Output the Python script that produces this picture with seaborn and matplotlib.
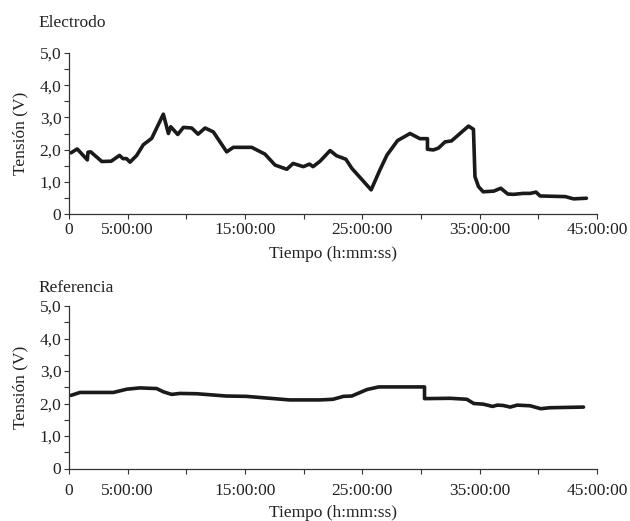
import matplotlib
matplotlib.use("Agg")
import matplotlib.pyplot as plt
import seaborn as sns
import pandas as pd

# Electrodo series (hours, volts)
elec_h = [0.17, 0.7, 1.56, 1.62, 1.85, 2.8, 3.6, 4.3, 4.6, 4.9, 5.2, 5.77, 6.33, 7.05, 8.04,
          8.47, 8.67, 9.27, 9.75, 10.46, 11.0, 11.6, 12.3, 13.44, 14.0, 15.57, 16.7, 17.56,
          18.56, 19.1, 19.97, 20.5, 20.8, 21.4, 22.25, 22.8, 23.6, 24.1, 25.75, 26.5, 27.1,
          28.0, 29.07, 29.9, 30.55, 30.55, 31.06, 31.5, 32.05, 32.6, 34.05, 34.47, 34.6,
          34.9, 35.3, 36.2, 36.8, 37.4, 37.9, 38.7, 39.3, 39.8, 40.15, 42.3, 43.0, 44.1]
elec_v = [1.9, 2.02, 1.68, 1.92, 1.93, 1.63, 1.64, 1.82, 1.72, 1.72, 1.61, 1.82, 2.15, 2.35, 3.1,
          2.5, 2.71, 2.47, 2.69, 2.67, 2.48, 2.67, 2.55, 1.93, 2.07, 2.07, 1.86, 1.52,
          1.39, 1.57, 1.47, 1.55, 1.47, 1.64, 1.97, 1.81, 1.70, 1.42, 0.75, 1.37, 1.83,
          2.28, 2.5, 2.34, 2.34, 2.01, 1.99, 2.05, 2.24, 2.27, 2.73, 2.63, 1.16,
          0.85, 0.69, 0.71, 0.80, 0.62, 0.61, 0.64, 0.64, 0.68, 0.56, 0.54, 0.47, 0.49]

# Referencia series (hours, volts)
ref_h = [0.17, 0.94, 3.78, 4.92, 6.05, 7.47, 8.04, 8.75, 9.46, 10.9, 13.4, 15.1, 16.8, 18.8,
         21.4, 22.5, 23.4, 24.1, 25.4, 26.4, 30.3, 30.3, 32.5, 33.9, 34.5, 35.3, 36.1, 36.5,
         37.0, 37.6, 38.2, 39.3, 40.2, 41.0, 43.85]
ref_v = [2.25, 2.34, 2.34, 2.44, 2.48, 2.46, 2.36, 2.28, 2.31, 2.3, 2.23, 2.22, 2.17, 2.11,
         2.11, 2.13, 2.22, 2.23, 2.43, 2.51, 2.51, 2.15, 2.16, 2.13, 2.0, 1.98, 1.91, 1.95,
         1.94, 1.89, 1.95, 1.93, 1.84, 1.87, 1.89]

x_ticks = [0, 5, 10, 15, 20, 25, 30, 35, 40, 45]
x_labels = ["0", "5:00:00", "", "15:00:00", "", "25:00:00", "", "35:00:00", "", "45:00:00"]
y_ticks = [0, 0.5, 1, 1.5, 2, 2.5, 3, 3.5, 4, 4.5, 5]
y_labels = ["0", "", "1,0", "", "2,0", "", "3,0", "", "4,0", "", "5,0"]

sns.set_theme(style="ticks")
plt.rcParams["font.family"] = ["Liberation Serif", "DejaVu Serif"]
FS = 12.5
TXT = "#222222"

fig = plt.figure(figsize=(6.3, 5.21), dpi=100)
ax1 = fig.add_axes([69/630, 1-214/521, (597-69)/630, (214-53)/521])
ax2 = fig.add_axes([69/630, 1-468.5/521, (597-69)/630, (468.5-306)/521])

panels = [(ax1, elec_h, elec_v, "Electrodo", 23, 2, 6),
          (ax2, ref_h, ref_v, "Referencia", 288, 7, 4.6)]
for ax, h, v, title, ty, xpad, lpad in panels:
    df = pd.DataFrame({"h": h, "v": v})
    sns.lineplot(data=df, x="h", y="v", ax=ax, sort=False, estimator=None,
                 color="#1a1a1a", linewidth=2.6)
    ax.set_xlim(0, 45)
    ax.set_ylim(0, 5)
    ax.set_xticks(x_ticks)
    ax.set_xticklabels(x_labels, fontsize=FS, color=TXT)
    ax.set_yticks(y_ticks)
    ax.set_yticklabels(y_labels, fontsize=FS, color=TXT)
    ax.tick_params(axis="both", direction="out", length=3.5, width=0.8, color="#333333", pad=2)
    ax.tick_params(axis="x", pad=xpad)
    for s in ["top", "right"]:
        ax.spines[s].set_visible(False)
    for s in ["left", "bottom"]:
        ax.spines[s].set_color("#333333")
        ax.spines[s].set_linewidth(0.9)
    ax.set_xlabel("Tiempo (h:mm:ss)", fontsize=FS, color=TXT, labelpad=lpad)
    ax.set_ylabel("Tensión (V)", fontsize=FS, color=TXT, labelpad=8)
    fig.text(38/630, 1-ty/521, title, fontsize=FS, color=TXT, ha="left", va="center")
    ax.set_facecolor("white")

fig.savefig("out.png", dpi=100, facecolor="white")
